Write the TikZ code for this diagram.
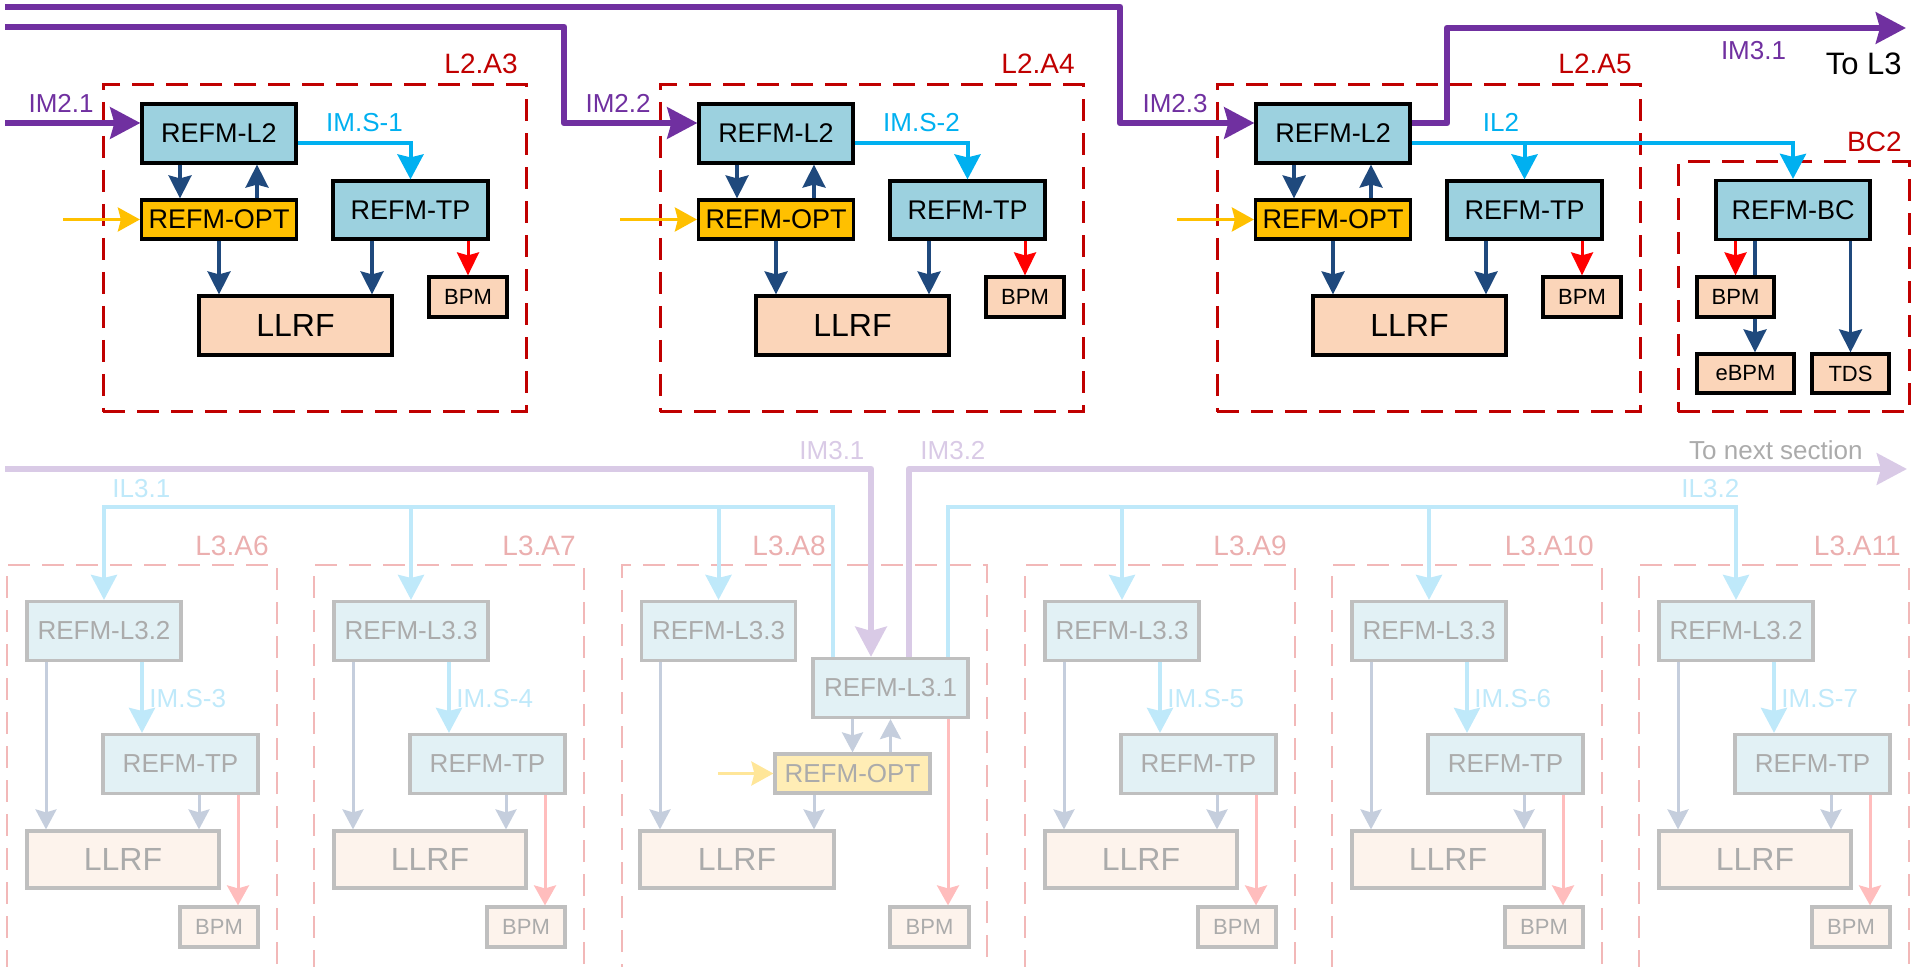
\documentclass[tikz,border=0pt]{standalone}
\usepackage{fontspec}
\setmainfont{Liberation Sans}
\usepackage{xcolor}
\usepackage{tikz}
\usetikzlibrary{arrows.meta}
\definecolor{impurple}{HTML}{7030A0}
\definecolor{imscyan}{HTML}{00B0F0}
\definecolor{ctrlblue}{HTML}{1F497D}
\definecolor{zonered}{HTML}{C00000}
\definecolor{refmfill}{HTML}{9CD1DF}
\definecolor{optfill}{HTML}{FFC000}
\definecolor{rffill}{HTML}{FBD5B9}
\definecolor{fpurple}{HTML}{D9CAE6}
\definecolor{fcyan}{HTML}{BFE9FA}
\definecolor{fblue}{HTML}{C5CEDD}
\definecolor{fred}{HTML}{FFBDBD}
\definecolor{fzone}{HTML}{F2B8B8}
\definecolor{fzonetext}{HTML}{EBAFAF}
\definecolor{frefm}{HTML}{E2F1F5}
\definecolor{fopt}{HTML}{FFEDB5}
\definecolor{frf}{HTML}{FDF3EC}
\definecolor{fborder}{HTML}{BFBFBF}
\definecolor{ftext}{HTML}{ABABAB}
\definecolor{fyellow}{HTML}{FFE699}
\newcommand{\fntbox}{\fontsize{13.5}{15}\selectfont}
\newcommand{\fntzone}{\fontsize{14}{16}\selectfont}
\newcommand{\fntrf}{\fontsize{16}{18}\selectfont}
\newcommand{\fntbpm}{\fontsize{11}{13}\selectfont}
\newcommand{\fntlab}{\fontsize{13}{15}\selectfont}
\tikzset{blk/.style={draw=black, line width=1.6pt, inner sep=0pt, text=black}}
\tikzset{refm/.style={blk, fill=refmfill, minimum width=77pt, minimum height=29.5pt, font=\fntbox}}
\tikzset{optbox/.style={blk, fill=optfill, minimum width=77.5pt, minimum height=19.5pt, font=\fntbox}}
\tikzset{llrf/.style={blk, fill=rffill, minimum width=96.5pt, minimum height=29.5pt, font=\fntrf}}
\tikzset{bpm/.style={blk, fill=rffill, minimum width=39pt, minimum height=20pt, font=\fntbpm}}
\tikzset{faded/.style={draw=fborder, text=ftext}}
\tikzset{frefm/.style={refm, faded, fill=frefm, font=\fntlab}}
\tikzset{fopt/.style={optbox, faded, fill=fopt, font=\fntlab}}
\tikzset{fllrf/.style={llrf, faded, fill=frf}}
\tikzset{fbpm/.style={bpm, faded, fill=frf}}
\tikzset{zone/.style={draw=zonered, line width=1.5pt, dash pattern=on 11pt off 6pt, inner sep=0pt}}
\tikzset{fzone/.style={zone, draw=fzone, line width=1.4pt}}
\tikzset{zonetxt/.style={text=zonered, font=\fntzone, inner sep=0pt}}
\tikzset{fzonetxt/.style={zonetxt, text=fzonetext}}
\tikzset{lab/.style={font=\fntlab, inner sep=0pt}}
\tikzset{imarr/.style={draw=impurple, line width=3.3pt, line join=round, -{Stealth[length=15pt, width=15.5pt, inset=2pt]}}}
\tikzset{imsarr/.style={draw=imscyan, line width=2pt, -{Stealth[length=12.5pt, width=13pt, inset=1.5pt]}}}
\tikzset{ctrlline/.style={draw=ctrlblue, line width=1.6pt}}
\tikzset{ctrl/.style={ctrlline, -{Stealth[length=11.5pt, width=11.5pt, inset=1.5pt]}}}
\tikzset{bpmarr/.style={draw=red, line width=1.5pt, -{Stealth[length=11.5pt, width=11pt, inset=1.5pt]}}}
\tikzset{optin/.style={draw=optfill, line width=1.6pt, -{Stealth[length=11pt, width=12pt, inset=1.5pt]}}}
\tikzset{fimarr/.style={imarr, draw=fpurple}}
\tikzset{fimsarr/.style={imsarr, draw=fcyan}}
\tikzset{fctrl/.style={draw=fblue, line width=1.5pt, -{Stealth[length=10pt, width=10.5pt, inset=1.5pt]}}}
\tikzset{fbpmarr/.style={draw=fred, line width=1.5pt, -{Stealth[length=10pt, width=11pt, inset=1.5pt]}}}
\tikzset{foptin/.style={optin, draw=fyellow}}
\begin{document}
\begin{tikzpicture}[x=0.5pt, y=-0.5pt]
\path[use as bounding box] (0,0) rectangle (1915,967);
\clip (0,0) rectangle (1915,967);

% L2 sections
\foreach \sx/\za [count=\i] in {0/A3, 557/A4, 1114/A5}{
  \begin{scope}[shift={(\sx,0)}]
    \node[zone, minimum width=211.5pt, minimum height=163.5pt] (zone\i) at (314.5,248.5) {};
    \node[zonetxt, anchor=base east] (zlab\i) at (518,74) {L2.\za};
    \node[refm] (l2\i) at (219,133.5) {REFM-L2};
    \node[optbox] (opt\i) at (219,219.5) {REFM-OPT};
    \node[refm, minimum width=77.5pt, minimum height=29pt] (tp\i) at (410.5,210) {REFM-TP};
    \node[llrf] (rf\i) at (295.5,325.5) {LLRF};
    \node[bpm] (bpm\i) at (468,297) {BPM};
    \node[lab, text=impurple, anchor=base east] (imlab\i) at (94,113) {IM2.\i};
    \coordinate (optsrc\i) at (63,219.5);
  \end{scope}
  \draw[ctrl] ([xshift=-19.5pt]l2\i.south) -- ([xshift=-19.5pt]opt\i.north);
  \draw[ctrl] ([xshift=19pt]opt\i.north) -- ([xshift=19pt]l2\i.south);
  \draw[ctrl] (opt\i.south) -- (opt\i.south |- rf\i.north);
  \draw[ctrl] ([xshift=-19.25pt]tp\i.south) -- ([xshift=-19.25pt]tp\i.south |- rf\i.north);
  \draw[bpmarr] (tp\i.south -| bpm\i.north) -- (bpm\i.north);
  \draw[optin] (optsrc\i) -- (opt\i.west);
}

% BC2
\node[zone, minimum width=115.5pt, minimum height=125pt] (zonebc) at (1793.5,287) {};
\node[zonetxt, anchor=base east] (zlabbc) at (1902,152) {BC2};
\node[refm] (bc) at (1793,210) {REFM-BC};
\node[bpm, minimum width=38.5pt] (bpmbc) at (1735.5,297) {BPM};
\node[bpm, minimum width=48.5pt, minimum height=19.5pt] (ebpm) at (1745.5,373.5) {eBPM};
\node[bpm, minimum width=38.5pt, minimum height=19.5pt] (tds) at (1850.5,373.5) {TDS};
\draw[bpmarr] (bc.south -| bpmbc.north) -- (bpmbc.north);
\draw[ctrlline] ([xshift=9.75pt]bc.south -| bpmbc.north) -- ([xshift=9.75pt]bpmbc.north);
\draw[ctrl] ([xshift=9.75pt]bpmbc.south) -- ([xshift=9.75pt]bpmbc.south |- ebpm.north);
\draw[ctrl] (bc.south -| tds.north) -- (tds.north);

% IM2 / IM3.1 lines
\coordinate (imsrcA) at (5,7);
\coordinate (imsrcB) at (5,27);
\coordinate (imsrcC) at (5,123);
\coordinate (imout) at (1906,28);
\draw[imarr] (imsrcC) -- ([yshift=5.25pt]l21.west);
\draw[imarr] (imsrcB) -| (564,123) -- ([yshift=5.25pt]l22.west);
\draw[imarr] (imsrcA) -| (1120,123) -- ([yshift=5.25pt]l23.west);
\draw[imarr] ([yshift=5.25pt]l23.east) -| (1447,28) -- (imout);
\node[lab, text=impurple, anchor=base] (im31lab) at (1753.5,60) {IM3.1};
\node[lab, font=\fontsize{15.5}{17}\selectfont, anchor=base east] (tol3) at (1902,75) {To L3};

% IM.S / IL2 lines
\draw[imsarr] ([yshift=-4.75pt]l21.east) -| (tp1.north);
\draw[imsarr] ([yshift=-4.75pt]l22.east) -| (tp2.north);
\coordinate (il2) at ([yshift=-4.75pt]l23.east);
\draw[imsarr] (il2) -| (bc.north);
\draw[imsarr] (tp3.north |- il2) -- (tp3.north);
\node[lab, text=imscyan, anchor=base] (ims1) at (364.5,132) {IM.S-1};
\node[lab, text=imscyan, anchor=base] (ims2) at (921.5,132) {IM.S-2};
\node[lab, text=imscyan, anchor=base] (il2lab) at (1501,132) {IL2};

% L3 sections
\foreach \ox/\zb/\rn/\ik in {0/6/2/3, 307/7/3/4, 1018/9/3/5, 1325/10/3/6, 1632/11/2/7}{
  \begin{scope}[shift={(\ox,0)}]
    \node[fzone, minimum width=135pt, minimum height=217.5pt] (zoneb\zb) at (142,782.5) {};
    \node[fzonetxt, anchor=base east] (zlabb\zb) at (269,555) {L3.A\zb};
    \node[frefm] (ref\zb) at (104,631) {REFM-L3.\rn};
    \node[frefm, minimum width=77.5pt] (tpb\zb) at (180.5,764) {REFM-TP};
    \node[fllrf, minimum width=96pt, minimum height=28.5pt] (rfb\zb) at (123,859.5) {LLRF};
    \node[fbpm] (bpmb\zb) at (219,927) {BPM};
    \node[lab, text=fcyan, anchor=base west] (imsb\zb) at (149,707) {IM.S-\ik};
  \end{scope}
  \draw[fctrl] ([xshift=-29pt]ref\zb.south) -- ([xshift=-29pt]ref\zb.south |- rfb\zb.north);
  \draw[fimsarr] ([xshift=19pt]ref\zb.south) -- ([xshift=19pt]ref\zb.south |- tpb\zb.north);
  \draw[fctrl] ([xshift=9.25pt]tpb\zb.south) -- ([xshift=9.25pt]tpb\zb.south |- rfb\zb.north);
  \draw[fbpmarr] ([xshift=28.75pt]tpb\zb.south) -- ([xshift=28.75pt]tpb\zb.south |- bpmb\zb.north);
}

% L3.A8
\node[fzone, minimum width=182.5pt, minimum height=217.5pt] (zoneb8) at (804.5,782.5) {};
\node[fzonetxt, anchor=base east] (zlabb8) at (826,555) {L3.A8};
\node[frefm] (ref8) at (718.5,631) {REFM-L3.3};
\node[frefm, minimum width=77.5pt] (l31) at (890.5,688) {REFM-L3.1};
\node[fopt] (optb8) at (852.5,773.5) {REFM-OPT};
\node[fllrf, minimum width=97pt, minimum height=28.5pt] (rfb8) at (737,859.5) {LLRF};
\node[fbpm, minimum width=39.5pt] (bpmb8) at (929.5,927) {BPM};
\coordinate (optsrc8) at (718,773.5);
\draw[fctrl] ([xshift=-29.25pt]ref8.south) -- ([xshift=-29.25pt]ref8.south |- rfb8.north);
\draw[fctrl] (optb8.north |- l31.south) -- (optb8.north);
\draw[fctrl] (l31.south |- optb8.north) -- (l31.south);
\draw[fctrl] ([xshift=-19.25pt]optb8.south) -- ([xshift=-19.25pt]optb8.south |- rfb8.north);
\draw[fbpmarr] ([xshift=28.75pt]l31.south) -- ([xshift=28.75pt]l31.south |- bpmb8.north);
\draw[foptin] (optsrc8) -- (optb8.west);

% IM3 / IL3 lines
\coordinate (im3src) at (5,469);
\coordinate (im3out) at (1907,469);
\coordinate (il3bus) at (500,507);
\draw[fimarr] (im3src) -| ([xshift=-9.75pt]l31.north);
\draw[fimarr] ([xshift=9.25pt]l31.north) |- (im3out);
\draw[fimsarr] ([xshift=-28.75pt]l31.north) |- (ref6.north |- il3bus) -- (ref6.north);
\draw[fimsarr] (ref7.north |- il3bus) -- (ref7.north);
\draw[fimsarr] (ref8.north |- il3bus) -- (ref8.north);
\draw[fimsarr] ([xshift=28.75pt]l31.north) |- (ref11.north |- il3bus) -- (ref11.north);
\draw[fimsarr] (ref9.north |- il3bus) -- (ref9.north);
\draw[fimsarr] (ref10.north |- il3bus) -- (ref10.north);
\node[lab, text=fcyan, anchor=base west] (il31lab) at (112,497) {IL3.1};
\node[lab, text=fcyan, anchor=base west] (il32lab) at (1681,497) {IL3.2};
\node[lab, text=fpurple, anchor=base west] (im31b) at (799,459) {IM3.1};
\node[lab, text=fpurple, anchor=base west] (im32b) at (920,459) {IM3.2};
\node[lab, text=ftext, anchor=base east] (nextsec) at (1863,459) {To next section};
\end{tikzpicture}
\end{document}
